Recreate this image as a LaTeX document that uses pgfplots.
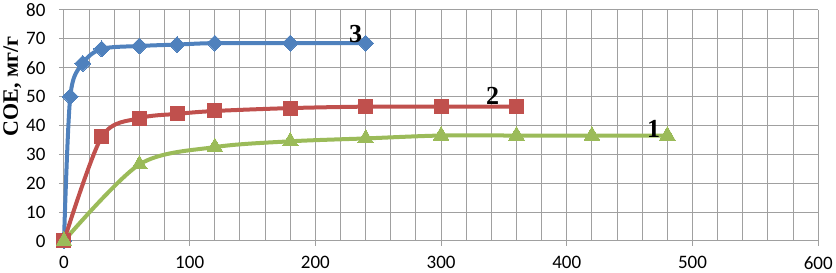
\documentclass[border=0pt]{standalone}
\usepackage{pgfplots}
\pgfplotsset{compat=1.18}
\usepackage{fontspec}
\setmainfont{Liberation Serif}
\newfontfamily\carlito{Carlito}
\definecolor{cg}{HTML}{9BBB59}
\definecolor{cr}{HTML}{C0504D}
\definecolor{cb}{HTML}{4F81BD}
\definecolor{gridc}{HTML}{A0A0A0}
\begin{document}
\begin{tikzpicture}
\begin{axis}[
  scale only axis, width=754pt, height=231pt,
  xmin=0, xmax=600, ymin=0, ymax=80,
  xtick={0,100,...,600}, minor x tick num=4,
  ytick={0,10,...,80},
  grid=both,
  major grid style={gridc, line width=1pt},
  minor grid style={gridc, line width=1pt},
  axis line style={gridc, line width=1pt},
  tick style={gridc, line width=1pt},
  major tick length=5pt, minor tick length=0pt,
  tick align=outside,
  axis x line*=bottom, axis y line*=left,
  /pgf/number format/assume math mode=true,
  tick label style={font=\carlito\fontsize{19}{21}\selectfont, black},
  xticklabel style={yshift=-7pt},
  yticklabel style={xshift=-10pt},
  ylabel={\bfseries СОЕ, мг/г},
  ylabel style={font=\fontsize{22}{24}\selectfont, at={(ticklabel cs:0.67)}, anchor=south, yshift=-2pt},
  clip=false,
]
\addplot[cb, line width=4pt, smooth, tension=0.5, mark=square*, mark size=5.6pt, mark options={line width=0pt, rotate=45}] coordinates {
 (0,0) (5,50) (15,61.5) (30,66.5) (60,67.5) (90,68) (120,68.5) (180,68.5) (240,68.5)};
\addplot[cr, line width=4pt, smooth, tension=0.5, mark=square*, mark size=7pt, mark options={line width=0pt}] coordinates {
 (0,0) (30,36) (60,42.5) (90,44) (120,45) (180,46) (240,46.5) (300,46.5) (360,46.5)};
\addplot[cg, line width=4pt, smooth, tension=0.5, mark=triangle*, mark size=9pt, mark options={line width=0pt}] coordinates {
 (0,0) (60,26.5) (120,32.5) (180,34.5) (240,35.5) (300,36.5) (360,36.5) (420,36.5) (480,36.5)};
\node[font=\bfseries\fontsize{26}{28}\selectfont] at (axis cs:232,71.6) {3};
\node[font=\bfseries\fontsize{26}{28}\selectfont] at (axis cs:341,50.2) {2};
\node[font=\bfseries\fontsize{26}{28}\selectfont] at (axis cs:469,38.8) {1};
\end{axis}
\end{tikzpicture}
\end{document}
